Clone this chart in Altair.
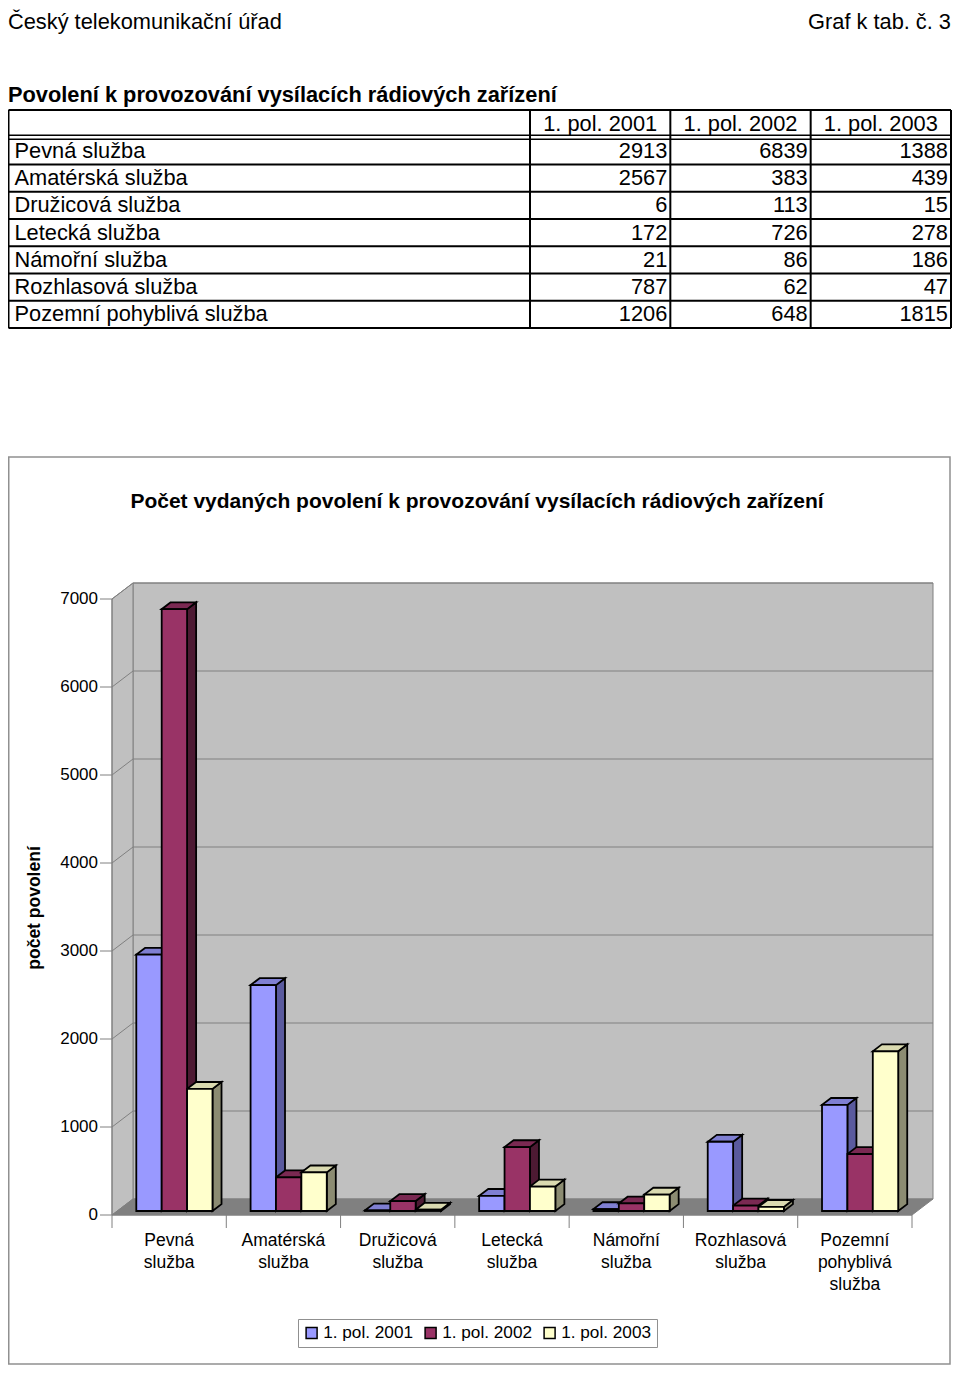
import altair as alt
import pandas as pd

# ---------------- data ----------------
office = "Český telekomunikační úřad"
graph_ref = "Graf k tab. č. 3"
table_title = "Povolení k provozování vysílacích rádiových zařízení"
chart_title = "Počet vydaných povolení k provozování vysílacích rádiových zařízení"
y_title = "počet povolení"

categories = ["Pevná služba", "Amatérská služba", "Družicová služba", "Letecká služba",
              "Námořní služba", "Rozhlasová služba", "Pozemní pohyblivá služba"]
axis_labels = ["Pevná\nslužba", "Amatérská\nslužba", "Družicová\nslužba", "Letecká\nslužba",
               "Námořní\nslužba", "Rozhlasová\nslužba", "Pozemní\npohyblivá\nslužba"]
series = ["1. pol. 2001", "1. pol. 2002", "1. pol. 2003"]
values_2001 = [2913, 2567, 6, 172, 21, 787, 1206]
values_2002 = [6839, 383, 113, 726, 86, 62, 648]
values_2003 = [1388, 439, 15, 278, 186, 47, 1815]
y_ticks = [0, 1000, 2000, 3000, 4000, 5000, 6000, 7000]

# ---------------- style ----------------
FONT = "Liberation Sans"
front_colors = ["#9999FF", "#993366", "#FFFFCC"]
side_colors = ["#5A5A9E", "#4D1A33", "#8C8C72"]
top_colors = ["#7F7FD2", "#7A2952", "#DADAB0"]
WALL = "#C0C0C0"
FLOOR = "#808080"
EDGE = "#808080"

W, H = 944, 1357
# chart geometry (view pixels)
CX0, CX1 = 104, 904          # front edge of the floor
CY0, CY1 = 1207, 591         # value 0 and value 7000 on the front plane
YMAX = 7000
NCAT = len(categories)
PXU = (CX1 - CX0) / NCAT
PXV = (CY0 - CY1) / YMAX
DXU = 21 / PXU               # full depth, in category units
DYV = 16 / PXV               # full depth, in value units
D0, D1 = 0.25, 0.68          # depth of bar front / back
BW = 1 / 4.5                 # bar width (gap width 150 %)
GAP = 0.75 * BW

xs = alt.Scale(domain=[0, NCAT], range=[CX0, CX1], nice=False, zero=False)
ys = alt.Scale(domain=[0, YMAX], range=[CY0, CY1], nice=False, zero=False)


def X(f):
    return alt.X(f, type="quantitative", scale=xs, axis=None)


def Y(f):
    return alt.Y(f, type="quantitative", scale=ys, axis=None)


# ---------------- chart layers ----------------
back_wall = alt.Chart(pd.DataFrame({"x": [DXU], "x2": [NCAT + DXU], "y": [DYV], "y2": [YMAX + DYV]})).mark_rect(
    fill=WALL, stroke=EDGE, strokeWidth=1).encode(x=X("x"), x2="x2", y=Y("y"), y2="y2")

left_wall = alt.Chart(pd.DataFrame({"x": [0, DXU], "y": [0, DYV], "y2": [YMAX, YMAX + DYV]})).mark_area(
    orient="vertical", fill=WALL, stroke=EDGE, strokeWidth=1).encode(x=X("x"), y=Y("y"), y2="y2")

floor = alt.Chart(pd.DataFrame({"y": [0, DYV], "x": [0, DXU], "x2": [NCAT, NCAT + DXU]})).mark_area(
    orient="horizontal", fill=FLOOR, stroke=EDGE, strokeWidth=1).encode(y=Y("y"), x=X("x"), x2="x2")

grid_df = pd.DataFrame({"v": y_ticks[1:]})
grid_df["x"] = DXU
grid_df["x2"] = NCAT + DXU
grid_df["yb"] = grid_df["v"] + DYV
grid_df["x0"] = 0.0
back_grid = alt.Chart(grid_df).mark_rule(stroke=EDGE, strokeWidth=1).encode(x=X("x"), x2="x2", y=Y("yb"))
side_grid = alt.Chart(grid_df).mark_rule(stroke=EDGE, strokeWidth=1).encode(
    x=X("x0"), x2="x", y=Y("v"), y2="yb")

axis_line_v = alt.Chart(pd.DataFrame({"x": [0], "y": [0], "y2": [YMAX]})).mark_rule(
    stroke=EDGE, strokeWidth=1).encode(x=X("x"), y=Y("y"), y2="y2")
axis_line_h = alt.Chart(pd.DataFrame({"x": [0], "x2": [NCAT], "y": [0]})).mark_rule(
    stroke=EDGE, strokeWidth=1).encode(x=X("x"), x2="x2", y=Y("y"))

tick_df = pd.DataFrame({"v": y_ticks, "label": [str(t) for t in y_ticks]})
tick_df["x0"] = 0.0
y_tick_marks = alt.Chart(tick_df).mark_rule(stroke=EDGE, strokeWidth=1, xOffset=-12).encode(
    x=X("x0"), x2="x0", y=Y("v"))
y_tick_labels = alt.Chart(tick_df).mark_text(
    font=FONT, fontSize=17, align="right", baseline="middle", dx=-14, color="black").encode(
    x=X("x0"), y=Y("v"), text="label:N")

xt_df = pd.DataFrame({"b": list(range(NCAT + 1))})
xt_df["y0"] = 0.0
x_tick_marks = alt.Chart(xt_df).mark_rule(stroke=EDGE, strokeWidth=1, y2Offset=13).encode(
    x=X("b"), y=Y("y0"), y2="y0")

cat_df = pd.DataFrame({"label": axis_labels, "xc": [i + 0.5 for i in range(NCAT)], "y0": 0.0})
cat_labels = alt.Chart(cat_df).mark_text(
    font=FONT, fontSize=17.5, align="center", baseline="top", dy=17, lineBreak="\n",
    lineHeight=22, color="black").encode(x=X("xc"), y=Y("y0"), text="label:N")

# bars
all_values = [values_2001, values_2002, values_2003]
fronts, sides, tops = [], [], []
for i in range(NCAT):
    for j, s in enumerate(series):
        v = all_values[j][i]
        L = i + GAP + j * BW
        R = L + BW
        bid = f"{i}-{j}"
        fronts.append({"id": bid, "series": s, "x": L + D0 * DXU, "x2": R + D0 * DXU,
                       "y": D0 * DYV, "y2": v + D0 * DYV})
        for d in (D0, D1):
            sides.append({"id": bid, "col": side_colors[j], "x": R + d * DXU,
                          "y": d * DYV, "y2": v + d * DYV})
            tops.append({"id": bid, "col": top_colors[j], "y": v + d * DYV,
                         "x": L + d * DXU, "x2": R + d * DXU})

side_layer = alt.Chart(pd.DataFrame(sides)).mark_area(
    orient="vertical", stroke="black", strokeWidth=1.8, strokeJoin="miter").encode(
    x=X("x"), y=Y("y"), y2="y2", detail="id:N", fill=alt.Fill("col:N", scale=None))
top_layer = alt.Chart(pd.DataFrame(tops)).mark_area(
    orient="horizontal", stroke="black", strokeWidth=1.8, strokeJoin="miter").encode(
    y=Y("y"), x=X("x"), x2="x2", detail="id:N", fill=alt.Fill("col:N", scale=None))
front_layer = alt.Chart(pd.DataFrame(fronts)).mark_bar(
    stroke="black", strokeWidth=1.8, strokeJoin="miter").encode(
    x=X("x"), x2="x2", y=Y("y"), y2="y2",
    fill=alt.Fill("series:N", scale=alt.Scale(domain=series, range=front_colors),
                  legend=alt.Legend(title=None, orient="none", legendX=290, legendY=1311,
                                    direction="horizontal", symbolType="square", symbolSize=121,
                                    symbolStrokeColor="black", symbolStrokeWidth=1.5,
                                    labelFont=FONT, labelFontSize=17.2, labelColor="black",
                                    labelOffset=3, columnPadding=8, padding=5,
                                    strokeColor="#909090", fillColor="white")))

chart_group = alt.layer(back_wall, left_wall, floor, back_grid, side_grid, axis_line_v, axis_line_h,
                        y_tick_marks, y_tick_labels, x_tick_marks, cat_labels,
                        side_layer, top_layer, front_layer)

# ---------------- table & texts ----------------
TL, TC0, TR = 0.5, 522, 943
COL_W = (TR - TC0) / 3
LS = (TC0 - TL) / COL_W
txs = alt.Scale(domain=[-LS, 3], range=[TL, TR], nice=False, zero=False)
tys = alt.Scale(domain=[0, 8], range=[102, 320], nice=False, zero=False)


def TX(f):
    return alt.X(f, type="quantitative", scale=txs, axis=None)


def TY(f):
    return alt.Y(f, type="quantitative", scale=tys, axis=None)


hl = pd.DataFrame({"r": [0, 2, 3, 4, 5, 6, 7, 8], "a": -LS, "b": 3})
h_lines = alt.Chart(hl).mark_rule(stroke="black", strokeWidth=2).encode(x=TX("a"), x2="b", y=TY("r"))
dl = pd.DataFrame({"r": [1], "a": -LS, "b": 3})
d_line1 = alt.Chart(dl).mark_rule(stroke="black", strokeWidth=1.5, yOffset=-2).encode(x=TX("a"), x2="b", y=TY("r"))
d_line2 = alt.Chart(dl).mark_rule(stroke="black", strokeWidth=1.5, yOffset=2).encode(x=TX("a"), x2="b", y=TY("r"))
vl = pd.DataFrame({"c": [-LS, 0, 1, 2, 3], "r0": 0, "r1": 8})
v_lines = alt.Chart(vl).mark_rule(stroke="black", strokeWidth=2).encode(x=TX("c"), y=TY("r0"), y2="r1")

head_df = pd.DataFrame({"t": series, "c": [0.5, 1.5, 2.5], "r": 0.5})
head_text = alt.Chart(head_df).mark_text(font=FONT, fontSize=21.8, align="center", baseline="middle",
                                         color="black").encode(x=TX("c"), y=TY("r"), text="t:N")
lab_df = pd.DataFrame({"t": categories, "c": -LS, "r": [i + 1.5 for i in range(NCAT)]})
lab_text = alt.Chart(lab_df).mark_text(font=FONT, fontSize=21.8, align="left", baseline="middle",
                                       dx=6, color="black").encode(x=TX("c"), y=TY("r"), text="t:N")
num_rows = []
for j in range(3):
    for i in range(NCAT):
        num_rows.append({"t": str(all_values[j][i]), "c": j + 1, "r": i + 1.5})
num_text = alt.Chart(pd.DataFrame(num_rows)).mark_text(
    font=FONT, fontSize=21.8, align="right", baseline="middle", dx=-3, color="black").encode(
    x=TX("c"), y=TY("r"), text="t:N")


def text_layer(txt, x, y, **kw):
    return alt.Chart(pd.DataFrame({"t": [txt]})).mark_text(font=FONT, color="black", **kw).encode(
        x=alt.value(x), y=alt.value(y), text="t:N")


t_office = text_layer(office, 0, 4, align="left", baseline="top", fontSize=21.8)
t_ref = text_layer(graph_ref, 943, 4, align="right", baseline="top", fontSize=21.8)
t_title = text_layer(table_title, 0, 87, align="left", baseline="middle", fontSize=21.8, fontWeight="bold")
t_ctitle = text_layer(chart_title, 469, 494, align="center", baseline="middle", fontSize=21, fontWeight="bold")
t_ytitle = text_layer(y_title, 27, 900, align="center", baseline="middle", fontSize=17.5,
                      fontWeight="bold", angle=270)

frame = alt.Chart(pd.DataFrame({"t": [0]})).mark_rect(filled=False, stroke="#909090", strokeWidth=1.5).encode(
    x=alt.value(0.75), x2=alt.value(942), y=alt.value(449), y2=alt.value(1356))

table_group = alt.layer(frame, h_lines, d_line1, d_line2, v_lines, head_text, lab_text, num_text,
                        t_office, t_ref, t_title, t_ctitle, t_ytitle)

chart = alt.layer(table_group, chart_group).resolve_scale(x="independent", y="independent").properties(
    width=W, height=H, autosize=alt.AutoSizeParams(type="none"), padding=0,
    background="white").configure_view(stroke=None)

chart.save("out.html", embed_options={"renderer": "svg", "actions": False})
